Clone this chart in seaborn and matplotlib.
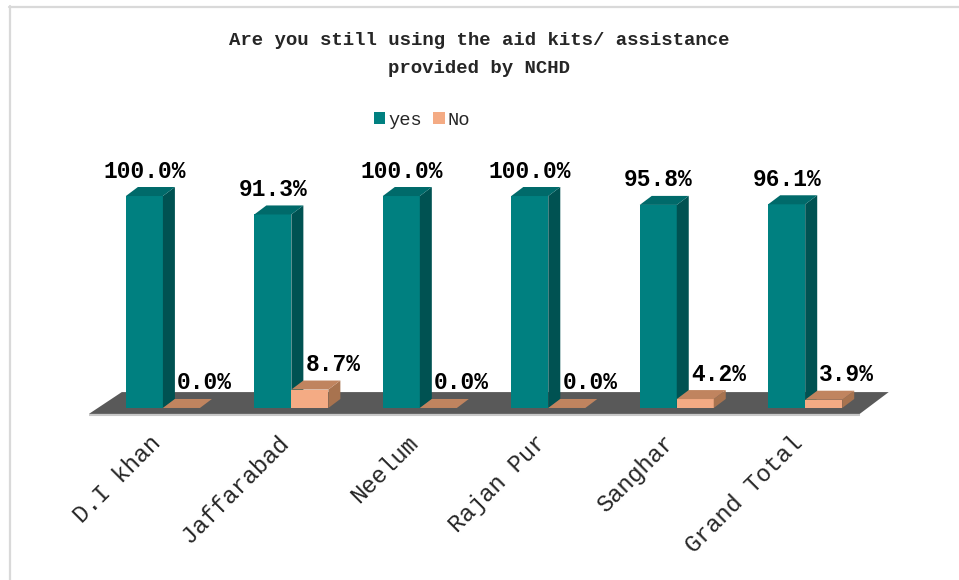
import matplotlib
matplotlib.use("Agg")
import matplotlib.pyplot as plt
import matplotlib.transforms as mtransforms
from matplotlib.patches import Polygon, Patch
from matplotlib.lines import Line2D
import seaborn as sns
import pandas as pd

# ---- data ----
districts = ["D.I khan", "Jaffarabad", "Neelum", "Rajan Pur", "Sanghar", "Grand Total"]
yes_pct = [100.0, 91.3, 100.0, 100.0, 95.8, 96.1]
no_pct = [0.0, 8.7, 0.0, 0.0, 4.2, 3.9]
responses = ["yes", "No"]

title = "Are you still using the aid kits/ assistance\nprovided by NCHD"

# ---- styling ----
sns.set_style("white")
plt.rcParams["font.family"] = ["Liberation Mono", "DejaVu Sans"]

face = {"yes": "#008080", "No": "#F4AB84"}
side = {"yes": "#005252", "No": "#A8734F"}
top = {"yes": "#006A6A", "No": "#C0845F"}

df = pd.DataFrame({
    "district": districts * 2,
    "pct": yes_pct + no_pct,
    "response": ["yes"] * len(districts) + ["No"] * len(districts),
})

fig = plt.figure(figsize=(9.59, 5.80), dpi=100)
ax = fig.add_axes([0.0761, 0.2783, 0.8707, 0.4276])

sns.barplot(data=df, x="district", y="pct", hue="response", hue_order=responses,
            palette=[face[r] for r in responses], width=0.576, dodge=True,
            saturation=1, ax=ax, legend=False, errorbar=None, linewidth=0)

ax.set_xlim(-0.7, 5.8)
ax.set_ylim(-5, 112)

# depth of the extruded bars, in data units
dx, dy = 0.0934, 4.25

# floor under the bars
n = len(districts)
floor = Polygon([(-0.576, -2.8), (n - 0.576, -2.8), (n - 0.35, 7.5), (-0.32, 7.5)],
                closed=True, facecolor="#595959", edgecolor="none", zorder=1)
ax.add_patch(floor)
ax.plot([-0.576, n - 0.576], [-3.3, -3.3], color="#C8C8C8", lw=1.5, zorder=1,
        solid_capstyle="butt")

# side and top faces for every bar, plus value labels
label_shift = {"yes": 0.0, "No": 0.18}
for k, (resp, cont) in enumerate(zip(responses, ax.containers)):
    for bar, val in zip(cont.patches, cont.datavalues):
        x0 = bar.get_x()
        x1 = x0 + bar.get_width()
        h = bar.get_height()
        z = 3 + k
        bar.set_zorder(z)
        ax.add_patch(Polygon([(x1, 0), (x1 + dx, dy), (x1 + dx, h + dy), (x1, h)],
                             closed=True, facecolor=side[resp], edgecolor="none", zorder=z))
        ax.add_patch(Polygon([(x0, h), (x0 + dx, h + dy), (x1 + dx, h + dy), (x1, h)],
                             closed=True, facecolor=top[resp], edgecolor="none", zorder=z))
        ax.text((x0 + x1) / 2 + label_shift[resp], h + 11.8, f"{val:.1f}%",
                ha="center", va="center", fontsize=16.5, fontweight="bold",
                color="black", zorder=6)

# axes decoration
for s in ax.spines.values():
    s.set_visible(False)
ax.set_yticks([])
ax.set_xlabel("")
ax.set_ylabel("")
ax.set_xticks(range(n))
ax.set_xticklabels(districts, rotation=45, ha="right", rotation_mode="anchor",
                   fontsize=17)
ax.tick_params(axis="x", length=0, pad=9)
shift = mtransforms.ScaledTranslation(-0.14, 0.0, fig.dpi_scale_trans)
for lbl in ax.get_xticklabels():
    lbl.set_transform(lbl.get_transform() + shift)

# legend
handles = [Patch(facecolor=face[r], edgecolor="none") for r in responses]
fig.legend(handles, responses, loc="center", bbox_to_anchor=(0.440, 0.793), ncol=2,
           frameon=False, fontsize=13.5, handlelength=0.62, handleheight=0.62,
           handletextpad=0.15, columnspacing=0.6)

# title
fig.text(0.5, 0.906, title, ha="center", va="center", fontsize=13.7,
         fontweight="bold", linespacing=1.85)

# chart-area border
fig.add_artist(Line2D([9.5 / 959, 9.5 / 959], [0, 1 - 6 / 580],
                      color="#D9D9D9", lw=1.6, transform=fig.transFigure))
fig.add_artist(Line2D([9 / 959, 1], [1 - 6.5 / 580, 1 - 6.5 / 580],
                      color="#D9D9D9", lw=1.6, transform=fig.transFigure))

fig.savefig("out.png", dpi=100)
